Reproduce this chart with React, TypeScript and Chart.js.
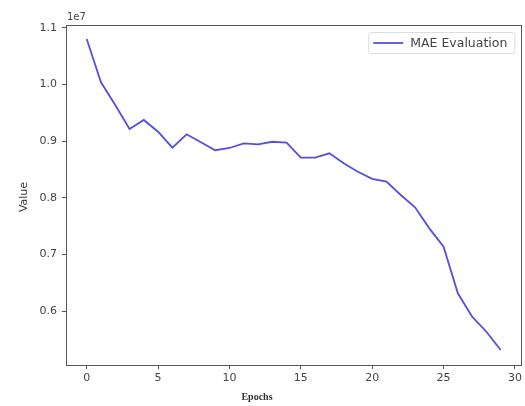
import React, { useEffect, useRef } from "react";
import { Chart, registerables } from "chart.js";

Chart.register(...registerables);

const epochs = [0, 1, 2, 3, 4, 5, 6, 7, 8, 9, 10, 11, 12, 13, 14, 15, 16, 17, 18, 19, 20, 21, 22, 23, 24, 25, 26, 27, 28, 29];
const maeValues = [
  10806000, 10040000, 9640000, 9216000, 9375000, 9168000, 8885000, 9122000, 8980000, 8840000,
  8880000, 8963000, 8945000, 8990000, 8974000, 8710000, 8710000, 8786000, 8610000, 8460000,
  8335000, 8285000, 8050000, 7832000, 7460000, 7136000, 6313000, 5900000, 5634000, 5310000,
];
const xTicks = [0, 5, 10, 15, 20, 25, 30];
const yTicks = [6000000, 7000000, 8000000, 9000000, 10000000, 11000000];
const seriesLabel = "MAE Evaluation";
const xLabel = "Epochs";
const yLabel = "Value";
const offsetLabel = "1e7";

const LINE_COLOR = "#5550de";
const TEXT_COLOR = "#444";
const SANS = "'DejaVu Sans', sans-serif";

const decorPlugin = {
  id: "decor",
  afterDraw(chart: any) {
    const { ctx, chartArea } = chart;
    const { left, top, right, bottom } = chartArea;
    ctx.save();
    // frame
    ctx.strokeStyle = "#555";
    ctx.lineWidth = 1;
    ctx.strokeRect(Math.round(left) + 0.5, Math.round(top) + 0.5, Math.round(right - left), Math.round(bottom - top));
    // offset label
    ctx.fillStyle = TEXT_COLOR;
    ctx.font = `10px ${SANS}`;
    ctx.textAlign = "left";
    ctx.textBaseline = "alphabetic";
    ctx.fillText(offsetLabel, left + 1, top - 5);
    // y label
    ctx.save();
    ctx.translate(24, 197);
    ctx.rotate(-Math.PI / 2);
    ctx.textAlign = "center";
    ctx.textBaseline = "middle";
    ctx.font = `11px ${SANS}`;
    ctx.fillStyle = "#333";
    ctx.fillText(yLabel, 0, 0);
    ctx.restore();
    // x label
    ctx.font = `bold 10px 'Liberation Serif', serif`;
    ctx.textAlign = "center";
    ctx.textBaseline = "middle";
    ctx.fillStyle = "#333";
    ctx.fillText(xLabel, 257, 397);
    // legend
    ctx.font = `12.5px ${SANS}`;
    const tw = ctx.measureText(seriesLabel).width;
    const bw = tw + 49;
    const bx = right - 7 - bw;
    const by = top + 7;
    const bh = 21;
    ctx.fillStyle = "rgba(255,255,255,0.8)";
    ctx.strokeStyle = "#ddd";
    ctx.lineWidth = 1;
    ctx.beginPath();
    (ctx as any).roundRect(bx + 0.5, by + 0.5, bw, bh, 2);
    ctx.fill();
    ctx.stroke();
    ctx.strokeStyle = LINE_COLOR;
    ctx.lineWidth = 1.8;
    ctx.beginPath();
    ctx.moveTo(bx + 5, by + bh / 2 + 0.5);
    ctx.lineTo(bx + 35, by + bh / 2 + 0.5);
    ctx.stroke();
    ctx.fillStyle = TEXT_COLOR;
    ctx.textAlign = "left";
    ctx.textBaseline = "middle";
    ctx.fillText(seriesLabel, bx + 42, by + bh / 2 + 1);
    ctx.restore();
  },
};

export default function App() {
  const ref = useRef<HTMLCanvasElement>(null);
  useEffect(() => {
    if (!ref.current) return;
    const chart = new Chart(ref.current, {
      type: "line",
      data: {
        datasets: [
          {
            label: seriesLabel,
            data: epochs.map((e, i) => ({ x: e, y: maeValues[i] })),
            borderColor: LINE_COLOR,
            borderWidth: 1.8,
            pointRadius: 0,
            tension: 0,
            fill: false,
          },
        ],
      },
      options: {
        animation: false,
        responsive: false,
        layout: { padding: { left: 0, top: 25, right: 3, bottom: 0 } },
        plugins: { legend: { display: false }, tooltip: { enabled: false }, title: { display: false } },
        scales: {
          x: {
            type: "linear",
            min: -1.45,
            max: 30.45,
            afterBuildTicks: (s: any) => {
              s.ticks = xTicks.map((v) => ({ value: v }));
            },
            afterFit: (s: any) => {
              s.height = 41;
            },
            grid: { drawOnChartArea: false, drawTicks: true, tickLength: 4, color: "#555" },
            border: { display: false },
            ticks: {
              color: TEXT_COLOR,
              font: { family: SANS, size: 11 },
              padding: 3,
              maxRotation: 0,
              autoSkip: false,
              callback: (v: any) => String(v),
            },
          },
          y: {
            type: "linear",
            min: 5046000,
            max: 11053000,
            afterBuildTicks: (s: any) => {
              s.ticks = yTicks.map((v) => ({ value: v }));
            },
            afterFit: (s: any) => {
              s.width = 66;
            },
            grid: { drawOnChartArea: false, drawTicks: true, tickLength: 4, color: "#555" },
            border: { display: false },
            ticks: {
              color: TEXT_COLOR,
              font: { family: SANS, size: 11 },
              padding: 5,
              autoSkip: false,
              callback: (v: any) => (Number(v) / 1e7).toFixed(1),
            },
          },
        },
      },
      plugins: [decorPlugin],
    });
    return () => chart.destroy();
  }, []);
  return (
    <div style={{ position: "fixed", left: 0, top: 0, width: 525, height: 406, background: "#fff" }}>
      <canvas ref={ref} width={525} height={406} style={{ display: "block" }} />
    </div>
  );
}
